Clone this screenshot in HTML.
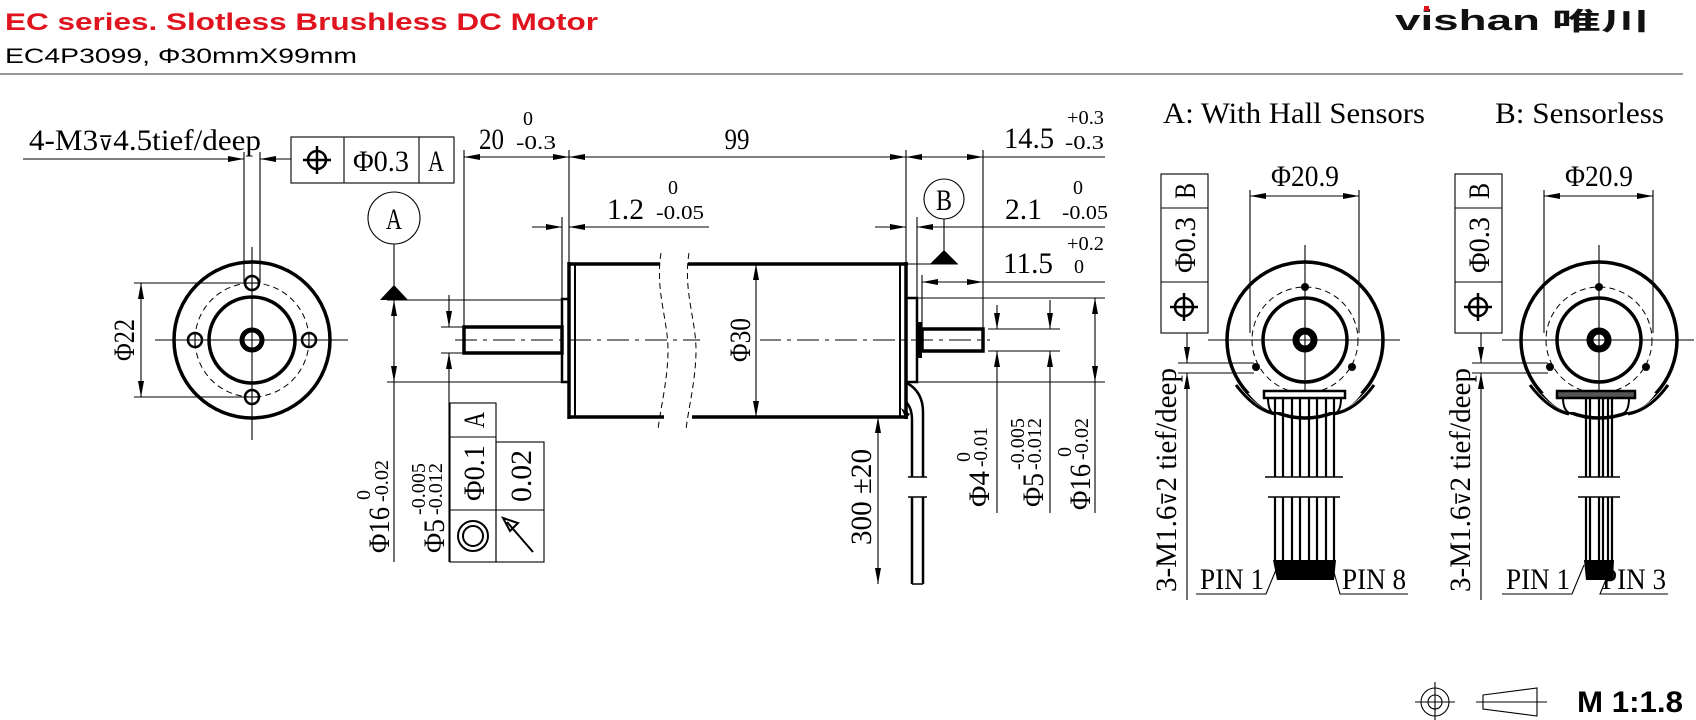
<!DOCTYPE html>
<html><head><meta charset="utf-8"><style>
html,body{margin:0;padding:0;background:#fff;width:1696px;height:720px;overflow:hidden}
svg{display:block}
.t{font-family:"Liberation Serif",serif;font-size:30px;fill:#000}
.s{font-family:"Liberation Serif",serif;font-size:20px;fill:#000}
.th{stroke:#000;stroke-width:3.5;fill:none}
.tn{stroke:#000;stroke-width:1.1;fill:none}
.cl{stroke:#000;stroke-width:1;fill:none;stroke-dasharray:22 6 4 6}
.ds{stroke:#000;stroke-width:1;fill:none;stroke-dasharray:6 4}
</style></head><body>
<svg width="1696" height="720" viewBox="0 0 1696 720" xmlns="http://www.w3.org/2000/svg">
<defs>
<marker id="ar" viewBox="0 0 16 6" refX="16" refY="3" markerWidth="16" markerHeight="6" markerUnits="userSpaceOnUse" orient="auto-start-reverse"><path d="M0,0 L16,3 L0,6 z" fill="#000"/></marker>
</defs>

<!-- header -->
<text x="5" y="30" font-family="Liberation Sans,sans-serif" font-weight="bold" font-size="24" fill="#e0141e" textLength="593" lengthAdjust="spacingAndGlyphs">EC series. Slotless Brushless DC Motor</text>
<text x="5" y="63" font-family="Liberation Sans,sans-serif" font-size="21" fill="#000" textLength="352" lengthAdjust="spacingAndGlyphs">EC4P3099, Φ30mmX99mm</text>
<line x1="0" y1="74" x2="1683" y2="74" stroke="#777" stroke-width="1.5"/>
<text x="1395" y="30" font-family="Liberation Sans,sans-serif" font-weight="bold" font-size="29" fill="#111" textLength="145" lengthAdjust="spacingAndGlyphs">vishan</text>
<rect x="1424" y="6" width="5" height="5" fill="#e0141e"/>
<text x="1552" y="30" font-family="Liberation Sans,'Noto Sans CJK SC',sans-serif" font-weight="bold" font-size="25" fill="#111" textLength="98" lengthAdjust="spacingAndGlyphs">唯川</text>

<!-- ============ LEFT END VIEW ============ -->
<circle cx="252" cy="340" r="78" class="th" stroke-width="3.2"/>
<circle cx="252" cy="340" r="57" class="ds"/>
<circle cx="252" cy="340" r="43" class="th"/>
<circle cx="252" cy="340" r="10" stroke="#000" stroke-width="5" fill="none"/>
<line x1="155" y1="340" x2="348" y2="340" class="tn"/>
<line x1="252" y1="247" x2="252" y2="440" class="tn"/>
<g stroke="#000" stroke-width="2.5" fill="none">
<circle cx="252" cy="283" r="7"/><circle cx="252" cy="397" r="7"/><circle cx="195" cy="340" r="7"/><circle cx="309" cy="340" r="7"/>
</g>
<g class="tn"><line x1="245" y1="283" x2="259" y2="283"/><line x1="245" y1="397" x2="259" y2="397"/><line x1="195" y1="333" x2="195" y2="347"/><line x1="309" y1="333" x2="309" y2="347"/></g>
<!-- phi22 -->
<line x1="134" y1="283" x2="245" y2="283" class="tn"/>
<line x1="134" y1="397" x2="245" y2="397" class="tn"/>
<line x1="141" y1="283" x2="141" y2="397" class="tn" marker-start="url(#ar)" marker-end="url(#ar)"/>
<text class="t" transform="translate(134,340) rotate(-90)" text-anchor="middle" textLength="42" lengthAdjust="spacingAndGlyphs">Φ22</text>
<!-- 4-M3 leader -->
<text class="t" x="29" y="150" textLength="232" lengthAdjust="spacingAndGlyphs">4-M3<tspan font-family="DejaVu Sans" font-size="20">⊽</tspan>4.5tief/deep</text>
<line x1="23" y1="159" x2="244" y2="159" class="tn" marker-end="url(#ar)"/>
<line x1="291" y1="159" x2="260" y2="159" class="tn" marker-end="url(#ar)"/>
<line x1="244" y1="152" x2="244" y2="283" class="tn"/>
<line x1="260" y1="152" x2="260" y2="283" class="tn"/>
<!-- FCF top -->
<rect x="291" y="137" width="163" height="46" class="tn"/>
<line x1="344" y1="137" x2="344" y2="183" class="tn"/><line x1="419" y1="137" x2="419" y2="183" class="tn"/>
<circle cx="317" cy="160" r="9" stroke="#000" stroke-width="2.5" fill="none"/>
<line x1="303" y1="160" x2="331" y2="160" stroke="#000" stroke-width="2.5"/><line x1="317" y1="146" x2="317" y2="174" stroke="#000" stroke-width="2.5"/>
<text class="t" x="381" y="171" text-anchor="middle" textLength="56" lengthAdjust="spacingAndGlyphs">Φ0.3</text>
<text class="t" x="436" y="171" text-anchor="middle" textLength="16" lengthAdjust="spacingAndGlyphs">A</text>

<!-- ============ SIDE VIEW ============ -->
<line x1="464" y1="150" x2="464" y2="327" class="tn"/>
<line x1="569" y1="150" x2="569" y2="264" class="tn"/>
<line x1="906" y1="150" x2="906" y2="264" class="tn"/>
<line x1="983" y1="150" x2="983" y2="329" class="tn"/>
<line x1="464" y1="157" x2="569" y2="157" class="tn" marker-start="url(#ar)" marker-end="url(#ar)"/>
<line x1="569" y1="157" x2="906" y2="157" class="tn" marker-start="url(#ar)" marker-end="url(#ar)"/>
<line x1="906" y1="157" x2="983" y2="157" class="tn" marker-start="url(#ar)" marker-end="url(#ar)"/>
<line x1="983" y1="157" x2="1105" y2="157" class="tn"/>
<text class="t" x="479" y="149" textLength="25" lengthAdjust="spacingAndGlyphs">20</text>
<text class="s" x="528" y="125" text-anchor="middle">0</text>
<text class="s" x="516" y="149" textLength="40" lengthAdjust="spacingAndGlyphs">-0.3</text>
<text class="t" x="737" y="149" text-anchor="middle" textLength="25" lengthAdjust="spacingAndGlyphs">99</text>
<text class="t" x="1004" y="148" textLength="50" lengthAdjust="spacingAndGlyphs">14.5</text>
<text class="s" x="1067" y="124" textLength="37" lengthAdjust="spacingAndGlyphs">+0.3</text>
<text class="s" x="1065" y="149" textLength="39" lengthAdjust="spacingAndGlyphs">-0.3</text>
<!-- 1.2 -->
<line x1="562" y1="217" x2="562" y2="299" class="tn"/>
<line x1="532" y1="227" x2="562" y2="227" class="tn" marker-end="url(#ar)"/>
<line x1="709" y1="227" x2="569" y2="227" class="tn" marker-end="url(#ar)"/>
<text class="t" x="607" y="219" textLength="37" lengthAdjust="spacingAndGlyphs">1.2</text>
<text class="s" x="673" y="194" text-anchor="middle">0</text>
<text class="s" x="656" y="219" textLength="48" lengthAdjust="spacingAndGlyphs">-0.05</text>
<!-- 2.1 -->
<line x1="917" y1="217" x2="917" y2="298" class="tn"/>
<line x1="875" y1="227" x2="906" y2="227" class="tn" marker-end="url(#ar)"/>
<line x1="1105" y1="227" x2="917" y2="227" class="tn" marker-end="url(#ar)"/>
<text class="t" x="1005" y="219" textLength="37" lengthAdjust="spacingAndGlyphs">2.1</text>
<text class="s" x="1078" y="194" text-anchor="middle">0</text>
<text class="s" x="1062" y="219" textLength="46" lengthAdjust="spacingAndGlyphs">-0.05</text>
<!-- 11.5 -->
<line x1="922" y1="275" x2="922" y2="329" class="tn"/>
<line x1="922" y1="282" x2="983" y2="282" class="tn" marker-start="url(#ar)" marker-end="url(#ar)"/>
<line x1="983" y1="282" x2="1105" y2="282" class="tn"/>
<text class="t" x="1003" y="273" textLength="50" lengthAdjust="spacingAndGlyphs">11.5</text>
<text class="s" x="1067" y="250" textLength="37" lengthAdjust="spacingAndGlyphs">+0.2</text>
<text class="s" x="1079" y="273" text-anchor="middle">0</text>
<!-- datum A -->
<circle cx="394" cy="218" r="26" class="tn"/>
<text class="t" x="394" y="229" text-anchor="middle" textLength="16" lengthAdjust="spacingAndGlyphs">A</text>
<line x1="394" y1="244" x2="394" y2="286" class="tn"/>
<path d="M380,300 L408,300 L394,285 z" fill="#000"/>
<line x1="387" y1="300" x2="562" y2="300" class="tn"/>
<line x1="387" y1="382" x2="562" y2="382" class="tn"/>
<line x1="394" y1="300" x2="394" y2="382" class="tn" marker-start="url(#ar)" marker-end="url(#ar)"/>
<line x1="394" y1="382" x2="394" y2="562" class="tn"/>
<!-- phi5 left -->
<line x1="441" y1="327" x2="464" y2="327" class="tn"/><line x1="441" y1="353" x2="464" y2="353" class="tn"/>
<line x1="449" y1="295" x2="449" y2="327" class="tn" marker-end="url(#ar)"/>
<line x1="449" y1="562" x2="449" y2="353" class="tn" marker-end="url(#ar)"/>
<text class="t" transform="translate(389,553) rotate(-90)" textLength="46" lengthAdjust="spacingAndGlyphs">Φ16</text>
<text class="s" transform="translate(370,500) rotate(-90)">0</text>
<text class="s" transform="translate(388,502) rotate(-90)" textLength="42" lengthAdjust="spacingAndGlyphs">-0.02</text>
<text class="t" transform="translate(444,553) rotate(-90)" textLength="34" lengthAdjust="spacingAndGlyphs">Φ5</text>
<text class="s" transform="translate(425,515) rotate(-90)" textLength="52" lengthAdjust="spacingAndGlyphs">-0.005</text>
<text class="s" transform="translate(442,515) rotate(-90)" textLength="52" lengthAdjust="spacingAndGlyphs">-0.012</text>
<!-- bottom FCF -->
<rect x="450" y="403" width="46" height="159" class="tn"/>
<line x1="450" y1="437" x2="496" y2="437" class="tn"/><line x1="450" y1="510" x2="496" y2="510" class="tn"/>
<rect x="496" y="442" width="48" height="120" class="tn"/>
<line x1="496" y1="510" x2="544" y2="510" class="tn"/>
<text class="t" transform="translate(484,420) rotate(-90)" text-anchor="middle" textLength="16" lengthAdjust="spacingAndGlyphs">A</text>
<text class="t" transform="translate(484,473) rotate(-90)" text-anchor="middle" textLength="56" lengthAdjust="spacingAndGlyphs">Φ0.1</text>
<circle cx="473" cy="536" r="15" stroke="#000" stroke-width="2" fill="none"/><circle cx="473" cy="536" r="10" stroke="#000" stroke-width="2" fill="none"/>
<text class="t" transform="translate(531,476) rotate(-90)" text-anchor="middle" textLength="52" lengthAdjust="spacingAndGlyphs">0.02</text>
<line x1="533" y1="552" x2="507" y2="522" stroke="#000" stroke-width="2"/>
<path d="M503,518 L518,523 L510,531 z" stroke="#000" stroke-width="2" fill="none"/>
<!-- shaft left -->
<rect x="464" y="327" width="98" height="26" class="th" stroke-width="3"/>
<rect x="562" y="299" width="7" height="83" stroke="#000" stroke-width="2.5" fill="none"/>
<!-- body -->
<line x1="569" y1="264" x2="660" y2="264" class="th"/><line x1="688" y1="264" x2="908" y2="264" class="th"/>
<line x1="569" y1="417" x2="664" y2="417" class="th"/><line x1="692" y1="417" x2="908" y2="417" class="th"/>
<line x1="569" y1="262" x2="569" y2="419" class="th"/><line x1="575" y1="264" x2="575" y2="417" stroke="#000" stroke-width="2"/>
<line x1="906" y1="262" x2="906" y2="419" class="th"/><line x1="900" y1="264" x2="900" y2="417" stroke="#000" stroke-width="2"/>
<path d="M661,253 C655,290 668,320 668,350 C668,380 660,410 658,430" class="ds" stroke-dasharray="7 3"/>
<path d="M689,253 C683,290 696,320 696,350 C696,380 688,410 686,430" class="ds" stroke-dasharray="7 3"/>
<line x1="455" y1="340" x2="990" y2="340" class="cl"/>
<rect x="700" y="330" width="60" height="20" fill="#fff"/>
<line x1="756" y1="264" x2="756" y2="417" class="tn" marker-start="url(#ar)" marker-end="url(#ar)"/>
<text class="t" transform="translate(750,340) rotate(-90)" text-anchor="middle" textLength="44" lengthAdjust="spacingAndGlyphs">Φ30</text>
<!-- right boss/shaft -->
<rect x="906" y="298" width="11" height="84" stroke="#000" stroke-width="2.5" fill="none"/>
<rect x="917" y="322" width="5" height="36" fill="#000"/>
<rect x="922" y="329" width="61" height="22" class="th" stroke-width="3"/>
<!-- datum B -->
<circle cx="944" cy="199" r="20" class="tn"/>
<text class="t" x="944" y="210" text-anchor="middle" textLength="16" lengthAdjust="spacingAndGlyphs">B</text>
<line x1="944" y1="219" x2="944" y2="251" class="tn"/>
<path d="M930,264 L958,264 L944,250 z" fill="#000"/>
<line x1="906" y1="264" x2="958" y2="264" class="tn"/>
<!-- right dims -->
<line x1="917" y1="298" x2="1105" y2="298" class="tn"/>
<line x1="917" y1="382" x2="1105" y2="382" class="tn"/>
<line x1="988" y1="329" x2="1060" y2="329" class="tn"/>
<line x1="988" y1="351" x2="1060" y2="351" class="tn"/>
<line x1="997" y1="305" x2="997" y2="329" class="tn" marker-end="url(#ar)"/>
<line x1="997" y1="513" x2="997" y2="351" class="tn" marker-end="url(#ar)"/>
<line x1="1050" y1="300" x2="1050" y2="329" class="tn" marker-end="url(#ar)"/>
<line x1="1050" y1="513" x2="1050" y2="351" class="tn" marker-end="url(#ar)"/>
<line x1="1095" y1="298" x2="1095" y2="382" class="tn" marker-start="url(#ar)" marker-end="url(#ar)"/>
<line x1="1095" y1="382" x2="1095" y2="513" class="tn"/>
<text class="t" transform="translate(989,507) rotate(-90)" textLength="36" lengthAdjust="spacingAndGlyphs">Φ4</text>
<text class="s" transform="translate(970,462) rotate(-90)">0</text>
<text class="s" transform="translate(987,467) rotate(-90)" textLength="40" lengthAdjust="spacingAndGlyphs">-0.01</text>
<text class="t" transform="translate(1043,507) rotate(-90)" textLength="34" lengthAdjust="spacingAndGlyphs">Φ5</text>
<text class="s" transform="translate(1024,470) rotate(-90)" textLength="52" lengthAdjust="spacingAndGlyphs">-0.005</text>
<text class="s" transform="translate(1041,470) rotate(-90)" textLength="52" lengthAdjust="spacingAndGlyphs">-0.012</text>
<text class="t" transform="translate(1090,510) rotate(-90)" textLength="46" lengthAdjust="spacingAndGlyphs">Φ16</text>
<text class="s" transform="translate(1071,457) rotate(-90)">0</text>
<text class="s" transform="translate(1088,460) rotate(-90)" textLength="42" lengthAdjust="spacingAndGlyphs">-0.02</text>
<!-- cable -->
<path d="M907,383 Q923,392 923,412 L923,477" stroke="#000" stroke-width="2.5" fill="none"/>
<path d="M906,402 Q912,408 912,420 L912,477" stroke="#000" stroke-width="2.5" fill="none"/>
<path d="M901,408 L910,414 L906,419 z" fill="#000"/>
<line x1="908" y1="477" x2="927" y2="477" stroke="#000" stroke-width="1.5"/>
<line x1="908" y1="497" x2="927" y2="497" stroke="#000" stroke-width="1.5"/>
<line x1="912" y1="497" x2="912" y2="584" stroke="#000" stroke-width="2.5"/>
<line x1="923" y1="497" x2="923" y2="584" stroke="#000" stroke-width="2.5"/>
<line x1="912" y1="584" x2="923" y2="584" stroke="#000" stroke-width="1.5"/>
<line x1="878" y1="584" x2="878" y2="417" class="tn" marker-start="url(#ar)" marker-end="url(#ar)"/>
<text class="t" transform="translate(871,497) rotate(-90)" text-anchor="middle" textLength="96" lengthAdjust="spacingAndGlyphs">300 ±20</text>

<!-- ============ HALL VIEW ============ -->
<text class="t" x="1163" y="123" textLength="262" lengthAdjust="spacingAndGlyphs">A: With Hall Sensors</text>
<text class="t" x="1495" y="123" textLength="169" lengthAdjust="spacingAndGlyphs">B: Sensorless</text>

<g id="hall">
<circle cx="1305" cy="340" r="78" class="th" stroke-width="3.2"/>
<circle cx="1305" cy="340" r="53" class="ds"/>
<circle cx="1305" cy="340" r="42" class="th"/>
<circle cx="1305" cy="340" r="9" stroke="#000" stroke-width="7" fill="none"/>
<line x1="1208" y1="340" x2="1400" y2="340" class="tn"/>
<line x1="1305" y1="245" x2="1305" y2="400" class="tn"/>
<circle cx="1305" cy="287" r="4" fill="#000"/><circle cx="1256" cy="367" r="4" fill="#000"/><circle cx="1352" cy="367" r="4" fill="#000"/>
<line x1="1250" y1="190" x2="1250" y2="333" class="tn"/><line x1="1359" y1="190" x2="1359" y2="333" class="tn"/>
<line x1="1250" y1="196" x2="1359" y2="196" class="tn" marker-start="url(#ar)" marker-end="url(#ar)"/>
<text class="t" x="1305" y="186" text-anchor="middle" textLength="68" lengthAdjust="spacingAndGlyphs">Φ20.9</text>
<rect x="1161" y="174" width="47" height="159" class="tn"/>
<line x1="1161" y1="208" x2="1208" y2="208" class="tn"/><line x1="1161" y1="282" x2="1208" y2="282" class="tn"/>
<text class="t" transform="translate(1195,191) rotate(-90)" text-anchor="middle" textLength="16" lengthAdjust="spacingAndGlyphs">B</text>
<text class="t" transform="translate(1195,245) rotate(-90)" text-anchor="middle" textLength="56" lengthAdjust="spacingAndGlyphs">Φ0.3</text>
<circle cx="1184" cy="307" r="9" stroke="#000" stroke-width="2.5" fill="none"/>
<line x1="1170" y1="307" x2="1198" y2="307" stroke="#000" stroke-width="2.5"/><line x1="1184" y1="293" x2="1184" y2="321" stroke="#000" stroke-width="2.5"/>
<line x1="1187" y1="333" x2="1187" y2="363" class="tn" marker-end="url(#ar)"/>
<line x1="1187" y1="600" x2="1187" y2="373" class="tn" marker-end="url(#ar)"/>
<line x1="1178" y1="363" x2="1254" y2="363" class="tn"/><line x1="1178" y1="373" x2="1254" y2="373" class="tn"/>
<text class="t" transform="translate(1176,592) rotate(-90)" textLength="224" lengthAdjust="spacingAndGlyphs">3-M1.6<tspan font-family="DejaVu Sans" font-size="20">⊽</tspan>2 tief/deep</text>
</g>
<!-- hall connector -->
<path d="M1248,393 Q1262,410 1275,412 L1334,412 Q1350,410 1362,393 L1350,391 L1260,391 z" fill="#fff" stroke="none"/>
<path d="M1236,385 Q1255,410 1275,414 M1334,414 Q1356,410 1374,385" stroke="#000" stroke-width="3" fill="none"/>
<rect x="1264" y="391" width="81" height="7" stroke="#000" stroke-width="2.5" fill="#fff"/>
<path d="M1268,398 Q1268,412 1275,414 M1341,398 Q1341,412 1334,414" stroke="#000" stroke-width="2" fill="none"/>
<g stroke="#000" stroke-width="2.2">
<line x1="1275" y1="398" x2="1275" y2="477"/><line x1="1283" y1="398" x2="1283" y2="477"/><line x1="1292" y1="398" x2="1292" y2="477"/><line x1="1300" y1="398" x2="1300" y2="477"/><line x1="1309" y1="398" x2="1309" y2="477"/><line x1="1317" y1="398" x2="1317" y2="477"/><line x1="1326" y1="398" x2="1326" y2="477"/><line x1="1334" y1="398" x2="1334" y2="477"/>
<line x1="1275" y1="497" x2="1275" y2="565"/><line x1="1283" y1="497" x2="1283" y2="565"/><line x1="1292" y1="497" x2="1292" y2="565"/><line x1="1300" y1="497" x2="1300" y2="565"/><line x1="1309" y1="497" x2="1309" y2="565"/><line x1="1317" y1="497" x2="1317" y2="565"/><line x1="1326" y1="497" x2="1326" y2="565"/><line x1="1334" y1="497" x2="1334" y2="565"/>
</g>
<line x1="1265" y1="477" x2="1343" y2="477" stroke="#000" stroke-width="1.5"/>
<line x1="1268" y1="497" x2="1340" y2="497" stroke="#000" stroke-width="1.5"/>
<path d="M1273,560 L1336,560 L1334,580 L1277,580 z" fill="#000"/>
<text class="t" x="1200" y="589" textLength="64" lengthAdjust="spacingAndGlyphs">PIN 1</text>
<text class="t" x="1342" y="589" textLength="64" lengthAdjust="spacingAndGlyphs">PIN 8</text>
<polyline points="1196,594 1266,594 1278,565" class="tn"/>
<polyline points="1408,594 1340,594 1332,565" class="tn"/>

<!-- ============ SENSORLESS VIEW ============ -->
<use href="#hall" transform="translate(294,0)"/>
<path d="M1542,393 Q1556,410 1569,412 L1628,412 Q1644,410 1656,393 L1644,391 L1554,391 z" fill="#fff" stroke="none"/>
<path d="M1530,385 Q1549,410 1569,414 M1628,414 Q1650,410 1668,385" stroke="#000" stroke-width="3" fill="none"/>
<rect x="1557" y="391" width="78" height="7" stroke="#000" stroke-width="2.5" fill="#555"/>
<path d="M1563,398 Q1563,412 1572,414 M1629,398 Q1629,412 1622,414" stroke="#000" stroke-width="2" fill="none"/>
<g stroke="#000" stroke-width="2.2">
<line x1="1586" y1="398" x2="1586" y2="477"/><line x1="1599" y1="398" x2="1599" y2="477"/><line x1="1612" y1="398" x2="1612" y2="477"/>
<line x1="1590" y1="398" x2="1590" y2="477"/><line x1="1603" y1="398" x2="1603" y2="477"/><line x1="1608" y1="398" x2="1608" y2="477"/>
<line x1="1586" y1="497" x2="1586" y2="565"/><line x1="1599" y1="497" x2="1599" y2="565"/><line x1="1612" y1="497" x2="1612" y2="565"/>
<line x1="1590" y1="497" x2="1590" y2="565"/><line x1="1603" y1="497" x2="1603" y2="565"/><line x1="1608" y1="497" x2="1608" y2="565"/>
</g>
<line x1="1578" y1="477" x2="1620" y2="477" stroke="#000" stroke-width="1.5"/>
<line x1="1578" y1="497" x2="1620" y2="497" stroke="#000" stroke-width="1.5"/>
<path d="M1584,560 L1614,560 L1613,580 L1586,580 z" fill="#000"/>
<text class="t" x="1506" y="589" textLength="64" lengthAdjust="spacingAndGlyphs">PIN 1</text>
<text class="t" x="1602" y="589" textLength="64" lengthAdjust="spacingAndGlyphs">PIN 3</text>
<polyline points="1502,594 1572,594 1584,565" class="tn"/>
<polyline points="1668,594 1600,594 1612,565" class="tn"/>

<!-- bottom right symbols -->
<circle cx="1435" cy="702" r="14" class="tn"/><circle cx="1435" cy="702" r="7" class="tn"/>
<line x1="1415" y1="702" x2="1455" y2="702" class="tn"/><line x1="1435" y1="682" x2="1435" y2="720" class="tn"/>
<path d="M1483,695 L1537,688 L1537,716 L1483,709 z" class="tn"/>
<line x1="1476" y1="702" x2="1547" y2="702" class="tn"/>
<text x="1577" y="712" font-family="Liberation Sans,sans-serif" font-weight="bold" font-size="30" fill="#000" textLength="106" lengthAdjust="spacingAndGlyphs">M 1:1.8</text>
</svg>
</body></html>
